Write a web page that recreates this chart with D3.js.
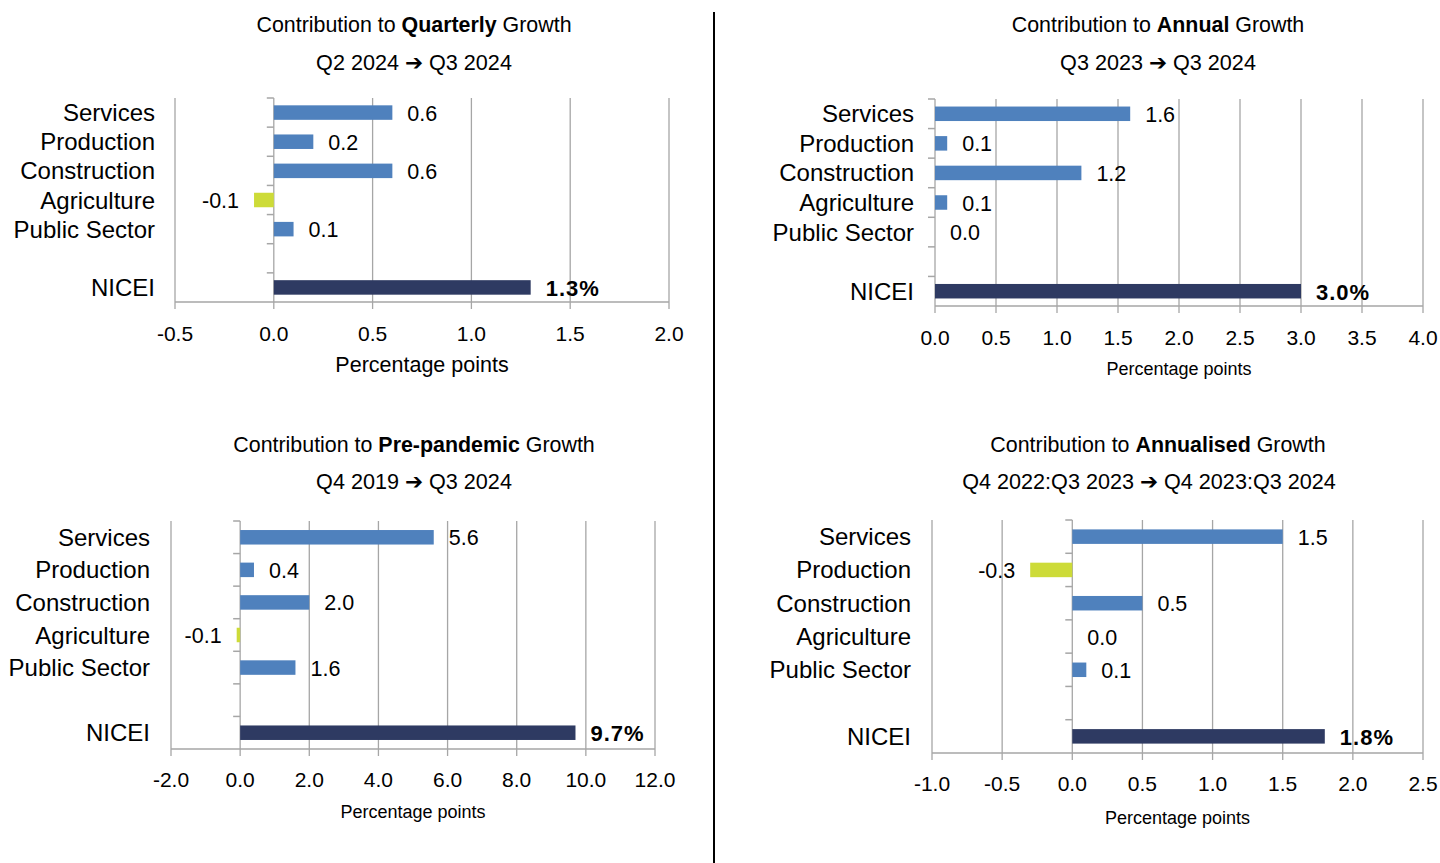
<!DOCTYPE html>
<html>
<head>
<meta charset="utf-8">
<script src="https://cdn.jsdelivr.net/npm/d3@7"></script>
<style>
  body { margin: 0; background: #fff; }
  svg text { font-family: "Liberation Sans", Arial, "DejaVu Sans", sans-serif; fill: #000; }
</style>
</head>
<body>
<div id="container"></div>
<script>

// data

const categories = ["Services", "Production", "Construction", "Agriculture", "Public Sector", "", "NICEI"]

const quarterlyValues = [0.6, 0.2, 0.6, -0.1, 0.1, null, 1.3]
const annualValues = [1.6, 0.1, 1.2, 0.1, 0.0, null, 3.0]
const prePandemicValues = [5.6, 0.4, 2.0, -0.1, 1.6, null, 9.7]
const annualisedValues = [1.5, -0.3, 0.5, 0.0, 0.1, null, 1.8]

const quarterlyTicks = [-0.5, 0.0, 0.5, 1.0, 1.5, 2.0]
const annualTicks = [0.0, 0.5, 1.0, 1.5, 2.0, 2.5, 3.0, 3.5, 4.0]
const prePandemicTicks = [-2, 0, 2, 4, 6, 8, 10, 12]
const annualisedTicks = [-1.0, -0.5, 0.0, 0.5, 1.0, 1.5, 2.0, 2.5]

const titleWords = ["Quarterly", "Annual", "Pre-pandemic", "Annualised"]
const subtitles = [
    "Q2 2024 \u2794 Q3 2024",
    "Q3 2023 \u2794 Q3 2024",
    "Q4 2019 \u2794 Q3 2024",
    "Q4 2022:Q3 2023 \u2794 Q4 2023:Q3 2024"
]

// constants

const width = 1440
const height = 863

const blue = "#4F81BD"
const green = "#CDDB38"
const navy = "#2E3A62"
const grey = "#A6A6A6"

// panel layouts (pixel boxes only, values come from the arrays above)

const panels = [
    { values: quarterlyValues, ticks: quarterlyTicks, word: titleWords[0], sub: subtitles[0],
      x0: 175, x1: 669, y0: 98, y1: 302, cx: 414, subX: 414, titleY: 25, subY: 62,
      labelX: 155, tickY: 333, axisY: 365, axisSize: 21.5 },
    { values: annualValues, ticks: annualTicks, word: titleWords[1], sub: subtitles[1],
      x0: 935, x1: 1423, y0: 99, y1: 306, cx: 1158, subX: 1158, titleY: 25, subY: 62,
      labelX: 914, tickY: 337, axisY: 369, axisSize: 18 },
    { values: prePandemicValues, ticks: prePandemicTicks, word: titleWords[2], sub: subtitles[2],
      x0: 171, x1: 655, y0: 521, y1: 749, cx: 414, subX: 414, titleY: 445, subY: 481,
      labelX: 150, tickY: 779, axisY: 812, axisSize: 18 },
    { values: annualisedValues, ticks: annualisedTicks, word: titleWords[3], sub: subtitles[3],
      x0: 932, x1: 1423, y0: 520, y1: 753, cx: 1158, subX: 1149, titleY: 445, subY: 481,
      labelX: 911, tickY: 783, axisY: 818, axisSize: 18 }
]

// one decimal, plain hyphen for the minus sign
const fmt = v => d3.format(".1f")(v).replace("\u2212", "-")

const svg = d3.select("#container")
    .append("svg")
    .attr("width", width)
    .attr("height", height)

// divider between left and right charts
svg.append("line")
    .attr("x1", 714).attr("x2", 714)
    .attr("y1", 12).attr("y2", height)
    .attr("stroke", "#000")
    .attr("stroke-width", 2)

panels.forEach(p => drawPanel(p))

function drawPanel(p) {

    const data = categories.map((c, i) => ({ cat: c, key: i, value: p.values[i] }))

    const xScale = d3.scaleLinear()
        .domain([p.ticks[0], p.ticks[p.ticks.length - 1]])
        .range([p.x0, p.x1])

    const yScale = d3.scaleBand()
        .domain(data.map(d => d.key))
        .range([p.y0, p.y1])

    const g = svg.append("g")

    // titles
    const t = g.append("text")
        .attr("x", p.cx)
        .attr("y", p.titleY)
        .attr("text-anchor", "middle")
        .attr("dominant-baseline", "central")
        .style("font-size", "21.4px")
    t.append("tspan").text("Contribution to ")
    t.append("tspan").style("font-weight", "bold").text(p.word)
    t.append("tspan").text(" Growth")

    g.append("text")
        .attr("x", p.subX)
        .attr("y", p.subY)
        .attr("text-anchor", "middle")
        .attr("dominant-baseline", "central")
        .style("font-size", "21.6px")
        .text(p.sub)

    // vertical gridlines, one for each tick, running a little below the axis
    g.selectAll(".grid")
        .data(p.ticks)
        .join("line")
        .attr("x1", d => xScale(d)).attr("x2", d => xScale(d))
        .attr("y1", p.y0).attr("y2", p.y1 + 7)
        .attr("stroke", grey)
        .attr("stroke-width", 1.3)

    // horizontal axis line
    g.append("line")
        .attr("x1", p.x0).attr("x2", p.x1)
        .attr("y1", p.y1).attr("y2", p.y1)
        .attr("stroke", grey)
        .attr("stroke-width", 1.5)

    // category ticks on the zero line
    const bounds = data.map(d => yScale(d.key))
    g.selectAll(".ytick")
        .data(bounds)
        .join("line")
        .attr("x1", xScale(0) - 7).attr("x2", xScale(0))
        .attr("y1", d => d).attr("y2", d => d)
        .attr("stroke", grey)
        .attr("stroke-width", 1.5)

    // x tick labels
    g.selectAll(".xlabel")
        .data(p.ticks)
        .join("text")
        .attr("x", d => xScale(d))
        .attr("y", p.tickY)
        .attr("text-anchor", "middle")
        .attr("dominant-baseline", "central")
        .style("font-size", "21px")
        .text(d => fmt(d))

    // axis title
    g.append("text")
        .attr("x", (p.x0 + p.x1) / 2)
        .attr("y", p.axisY)
        .attr("text-anchor", "middle")
        .attr("dominant-baseline", "central")
        .style("font-size", p.axisSize + "px")
        .text("Percentage points")

    // category labels
    g.selectAll(".cat")
        .data(data)
        .join("text")
        .attr("x", p.labelX)
        .attr("y", d => yScale(d.key) + yScale.bandwidth() / 2)
        .attr("text-anchor", "end")
        .attr("dominant-baseline", "central")
        .style("font-size", "24px")
        .text(d => d.cat)

    // bars
    const barH = 14.5
    const bars = data.filter(d => d.value !== null)

    g.selectAll(".bar")
        .data(bars)
        .join("rect")
        .attr("x", d => xScale(Math.min(0, d.value)))
        .attr("width", d => Math.abs(xScale(d.value) - xScale(0)))
        .attr("y", d => yScale(d.key) + (yScale.bandwidth() - barH) / 2)
        .attr("height", barH)
        .attr("fill", d => d.cat === "NICEI" ? navy : (d.value < 0 ? green : blue))

    // value labels
    g.selectAll(".val")
        .data(bars)
        .join("text")
        .attr("x", d => d.value < 0 ? xScale(d.value) - 15 : xScale(d.value) + 15)
        .attr("y", d => yScale(d.key) + yScale.bandwidth() / 2 + 1)
        .attr("text-anchor", d => d.value < 0 ? "end" : "start")
        .attr("dominant-baseline", "central")
        .style("font-size", d => d.cat === "NICEI" ? "22px" : "21.5px")
        .style("letter-spacing", d => d.cat === "NICEI" ? "1px" : "0px")
        .style("font-weight", d => d.cat === "NICEI" ? "bold" : "normal")
        .text(d => d.cat === "NICEI" ? fmt(d.value) + "%" : fmt(d.value))
}

</script>
</body>
</html>
